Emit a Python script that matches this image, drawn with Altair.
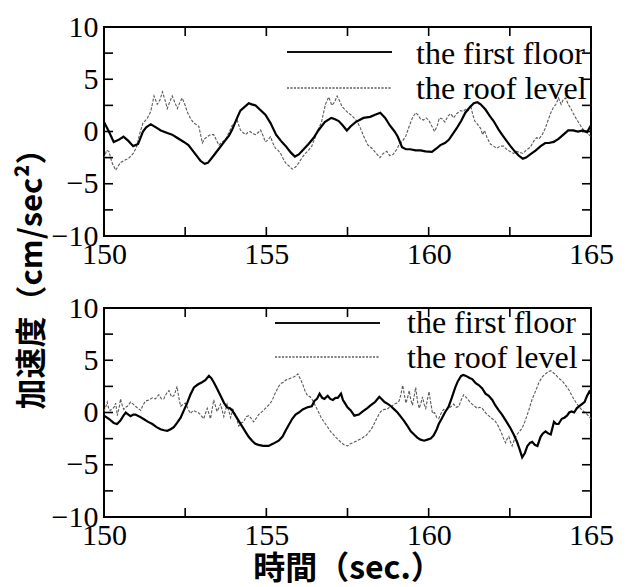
import altair as alt
import pandas as pd

# ---------------- text & ticks ----------------
x_major = [150, 155, 160, 165]
x_minor = [150, 152.5, 155, 157.5, 160, 162.5, 165]
y_major = [-10, -5, 0, 5, 10]
y_minor = [-10, -7.5, -5, -2.5, 0, 2.5, 5, 7.5, 10]
legend_labels = ["the first floor", "the roof level"]
y_title = "加速度（cm/sec²）"
x_title = "時間（sec.）"

# ---------------- top panel ----------------
top_first_t = [150.0, 150.15, 150.3, 150.45, 150.6, 150.75, 150.9, 151.05, 151.2, 151.3, 151.44, 151.6, 151.75,
               151.95, 152.1, 152.25, 152.46, 152.6, 152.75, 152.97, 153.1, 153.2, 153.38, 153.55, 153.7, 153.85,
               153.95, 154.1, 154.2, 154.35, 154.46, 154.55, 154.67, 154.8, 154.97, 155.13, 155.3, 155.45, 155.6,
               155.75, 155.88, 156.0, 156.15, 156.3, 156.46, 156.6, 156.8, 157.0, 157.1, 157.23, 157.35, 157.48,
               157.6, 157.75, 157.99, 158.2, 158.35, 158.51, 158.66, 158.8, 158.95, 159.05, 159.18, 159.3, 159.43,
               159.6, 159.75, 159.9, 160.1, 160.25, 160.36, 160.5, 160.62, 160.75, 160.88, 161.0, 161.13, 161.26,
               161.39, 161.5, 161.6, 161.75, 161.88, 162.0, 162.15, 162.26, 162.4, 162.52, 162.65, 162.77, 162.9,
               163.0, 163.13, 163.3, 163.45, 163.59, 163.7, 163.85, 164.0, 164.15, 164.3, 164.45, 164.6, 164.75,
               164.88, 165.0]
top_first_v = [0.9, 0.0, -1.0, -0.8, -0.5, -0.9, -1.4, -1.2, 0.0, 0.4, 0.7, 0.4, 0.1,
               -0.15, -0.3, -0.6, -1.0, -1.3, -1.9, -2.8, -3.1, -3.0, -2.3, -1.6, -1.0, -0.4,
               0.2, 1.3, 2.0, 2.4, 2.7, 2.6, 2.5, 2.1, 1.6, 0.8, -0.3, -0.9, -1.4,
               -2.0, -2.4, -2.2, -1.7, -1.2, -0.6, 0.1, 0.9, 1.3, 1.2, 1.0, 0.6, 0.1,
               0.5, 0.9, 1.3, 1.4, 1.6, 1.8, 1.3, 0.6, 0.0, -0.5, -1.5, -1.7, -1.7,
               -1.8, -1.8, -1.9, -1.95, -1.6, -1.3, -1.1, -0.8, -0.2, 0.4, 1.0, 1.8, 2.3,
               2.7, 2.8, 2.6, 2.1, 1.5, 1.0, 0.2, -0.3, -0.9, -1.4, -1.9, -2.3, -2.6,
               -2.5, -2.2, -1.8, -1.4, -1.1, -1.1, -1.0, -0.7, -0.3, 0.1, 0.1, 0.0, 0.1,
               -0.05, 0.6]

top_roof_t = [150.0, 150.08, 150.15, 150.25, 150.36, 150.5, 150.6, 150.75, 150.9, 151.0, 151.1, 151.2, 151.32,
              151.44, 151.54, 151.64, 151.72, 151.8, 151.88, 151.95, 152.02, 152.1, 152.18, 152.26, 152.34,
              152.41, 152.5, 152.56, 152.67, 152.77, 152.92, 153.03, 153.1, 153.18, 153.28, 153.38, 153.46,
              153.54, 153.64, 153.74, 153.85, 153.95, 154.03, 154.1, 154.2, 154.28, 154.36, 154.43, 154.5,
              154.58, 154.67, 154.75, 154.82, 154.9, 154.97, 155.05, 155.13, 155.2, 155.28, 155.36, 155.44,
              155.52, 155.59, 155.7, 155.8, 155.9, 156.0, 156.1, 156.2, 156.3, 156.4, 156.51, 156.6, 156.7,
              156.82, 156.92, 157.02, 157.1, 157.18, 157.26, 157.33, 157.48, 157.64, 157.79, 157.9, 157.99,
              158.13, 158.25, 158.36, 158.5, 158.6, 158.71, 158.8, 158.9, 159.02, 159.1, 159.2, 159.3, 159.4,
              159.5, 159.6, 159.67, 159.75, 159.84, 159.92, 160.0, 160.1, 160.18, 160.26, 160.33, 160.42,
              160.5, 160.6, 160.68, 160.77, 160.86, 160.98, 161.07, 161.15, 161.22, 161.29, 161.36, 161.42,
              161.5, 161.6, 161.66, 161.72, 161.8, 161.9, 162.0, 162.1, 162.2, 162.31, 162.4, 162.5, 162.62,
              162.7, 162.8, 162.9, 163.0, 163.13, 163.24, 163.32, 163.4, 163.5, 163.59, 163.67, 163.75,
              163.84, 163.92, 164.0, 164.08, 164.15, 164.22, 164.3, 164.38, 164.46, 164.55, 164.67, 164.78,
              164.87, 165.0]
top_roof_v = [-2.6, -1.8, -1.9, -3.0, -3.7, -3.0, -2.8, -2.6, -2.1, -1.5, -0.2, 0.8, 1.2,
              1.9, 3.4, 2.6, 3.0, 3.8, 3.0, 2.2, 2.8, 3.4, 2.8, 2.2, 2.8,
              3.2, 2.5, 1.9, 1.2, 0.8, 0.5, -1.1, -0.7, -0.5, -0.3, -0.3, -0.8,
              -1.3, -1.0, -0.8, -0.1, 0.6, 0.8, 1.1, 0.15, -0.1, -0.3, -0.1, 0.0,
              -0.2, -0.3, -0.1, 0.15, -0.4, -1.0, -0.8, -0.5, -1.1, -1.6, -1.8, -2.1,
              -2.6, -3.0, -3.3, -3.6, -3.4, -3.0, -2.5, -2.1, -1.8, -1.4, -0.5, 0.2, 0.9,
              2.6, 3.3, 2.5, 2.8, 3.4, 2.9, 2.4, 1.9, 1.5, 1.0, 0.3, -0.4,
              -1.3, -1.6, -2.0, -2.5, -2.1, -1.9, -2.3, -2.2, -1.7, -1.2, -0.9, -0.4, 0.5,
              1.3, 1.8, 1.6, 1.2, 1.1, 1.3, 1.1, 0.5, 0.0, 0.5, 1.3, 1.2,
              0.9, 1.5, 1.7, 1.3, 1.7, 2.0, 1.9, 2.2, 2.0, 2.5, 1.6, 1.0,
              0.7, 0.3, -0.3, 0.1, -0.6, -1.2, -1.4, -1.6, -1.4, -1.4, -1.7, -1.9, -2.1,
              -1.9, -2.0, -2.1, -1.8, -1.5, -0.9, -0.6, -0.7, -0.3, 0.3, 1.0, 1.7,
              2.3, 2.6, 3.2, 2.6, 3.1, 3.2, 2.6, 2.2, 1.7, 1.2, 0.6, 0.1,
              -0.1, -0.5]

# ---------------- bottom panel ----------------
bot_first_t = [150.0, 150.15, 150.3, 150.4, 150.5, 150.6, 150.67, 150.75, 150.82, 150.9, 150.97, 151.1, 151.23,
               151.36, 151.49, 151.62, 151.74, 151.85, 151.95, 152.05, 152.15, 152.25, 152.36, 152.46, 152.56,
               152.66, 152.77, 152.9, 153.02, 153.12, 153.23, 153.3, 153.38, 153.48, 153.59, 153.7, 153.79,
               153.88, 153.95, 154.05, 154.15, 154.25, 154.35, 154.45, 154.56, 154.66, 154.76, 154.9, 155.07,
               155.2, 155.38, 155.5, 155.6, 155.69, 155.8, 155.9, 156.0, 156.12, 156.27, 156.4, 156.48, 156.56,
               156.64, 156.72, 156.79, 156.89, 156.97, 157.05, 157.13, 157.2, 157.3, 157.36, 157.42, 157.5,
               157.6, 157.71, 157.85, 157.97, 158.1, 158.22, 158.35, 158.48, 158.55, 158.64, 158.75, 158.84,
               158.94, 159.04, 159.14, 159.24, 159.35, 159.45, 159.55, 159.65, 159.75, 159.86, 159.96, 160.06,
               160.15, 160.25, 160.31, 160.4, 160.5, 160.62, 160.7, 160.82, 160.9, 161.0, 161.07, 161.15,
               161.26, 161.34, 161.45, 161.55, 161.65, 161.75, 161.85, 161.96, 162.05, 162.16, 162.26, 162.4,
               162.52, 162.62, 162.72, 162.8, 162.88, 162.96, 163.04, 163.12, 163.19, 163.27, 163.35, 163.45,
               163.52, 163.6, 163.68, 163.76, 163.86, 163.93, 164.0, 164.1, 164.18, 164.26, 164.33, 164.4,
               164.48, 164.56, 164.64, 164.72, 164.8, 164.88, 164.95, 165.0]
bot_first_v = [-0.3, -0.6, -1.0, -1.1, -0.8, -0.3, 0.0, -0.2, -0.35, -0.2, -0.2, -0.4, -0.65,
               -0.9, -1.1, -1.4, -1.6, -1.7, -1.75, -1.6, -1.4, -1.0, -0.5, 0.2, 0.9,
               1.7, 2.4, 2.7, 2.9, 3.1, 3.5, 3.3, 2.9, 2.3, 1.6, 0.9, 0.5,
               0.4, 0.2, -0.3, -0.8, -1.3, -1.8, -2.3, -2.7, -3.0, -3.1, -3.2, -3.2,
               -3.0, -2.7, -2.3, -1.7, -1.2, -0.6, -0.2, 0.0, 0.3, 0.5, 0.6, 1.1, 1.3,
               1.8, 1.4, 1.3, 1.6, 1.3, 1.2, 1.4, 1.4, 1.8, 1.2, 0.9, 0.5,
               0.2, -0.3, -0.2, 0.1, 0.4, 0.7, 1.0, 1.5, 1.3, 1.0, 0.8, 0.6,
               0.3, 0.0, -0.4, -0.8, -1.3, -1.8, -2.1, -2.4, -2.6, -2.7, -2.6, -2.5,
               -2.2, -1.6, -1.1, -0.6, 0.0, 0.6, 1.3, 2.4, 3.0, 3.5, 3.6, 3.5,
               3.3, 3.2, 2.8, 2.6, 2.3, 1.8, 1.6, 1.2, 0.7, 0.2, -0.2, -0.9,
               -1.5, -2.1, -2.8, -3.5, -4.3, -3.9, -3.2, -2.9, -2.8, -3.1, -3.2, -2.3,
               -2.0, -1.8, -2.0, -2.1, -0.9, -1.1, -1.1, -0.6, -0.5, -0.3, 0.0, 0.1,
               0.0, 0.4, 0.6, 0.8, 1.0, 1.6, 2.0, 1.8]

bot_roof_t = [150.0, 150.06, 150.1, 150.15, 150.2, 150.31, 150.36, 150.41, 150.48, 150.51, 150.56, 150.61, 150.67,
              150.72, 150.82, 150.9, 150.97, 151.05, 151.13, 151.2, 151.28, 151.38, 151.49, 151.58, 151.69,
              151.77, 151.84, 151.92, 152.0, 152.08, 152.15, 152.2, 152.25, 152.3, 152.36, 152.44, 152.51,
              152.58, 152.66, 152.75, 152.82, 152.9, 152.97, 153.07, 153.18, 153.28, 153.38, 153.48, 153.59,
              153.69, 153.79, 153.9, 153.97, 154.05, 154.15, 154.22, 154.3, 154.38, 154.46, 154.54, 154.61,
              154.7, 154.76, 154.88, 154.97, 155.07, 155.17, 155.28, 155.38, 155.46, 155.53, 155.6, 155.69,
              155.76, 155.84, 155.91, 155.97, 156.05, 156.12, 156.2, 156.27, 156.35, 156.42, 156.5, 156.6,
              156.69, 156.8, 156.89, 157.0, 157.15, 157.28, 157.4, 157.5, 157.58, 157.66, 157.8, 157.92,
              158.07, 158.18, 158.27, 158.38, 158.48, 158.56, 158.63, 158.72, 158.79, 158.87, 158.94, 159.02,
              159.09, 159.15, 159.2, 159.25, 159.3, 159.35, 159.4, 159.45, 159.5, 159.55, 159.6, 159.66,
              159.71, 159.76, 159.81, 159.86, 159.91, 159.96, 160.01, 160.06, 160.12, 160.18, 160.25, 160.31,
              160.38, 160.46, 160.54, 160.62, 160.7, 160.77, 160.85, 160.93, 161.0, 161.08, 161.14, 161.2,
              161.27, 161.34, 161.42, 161.49, 161.57, 161.65, 161.72, 161.8, 161.88, 161.96, 162.04, 162.11,
              162.19, 162.26, 162.32, 162.37, 162.42, 162.47, 162.52, 162.57, 162.64, 162.72, 162.8, 162.88,
              162.96, 163.04, 163.12, 163.19, 163.3, 163.4, 163.5, 163.6, 163.68, 163.76, 163.84, 163.91,
              164.0, 164.12, 164.22, 164.33, 164.43, 164.53, 164.64, 164.74, 164.85, 164.95, 165.0]
bot_roof_v = [0.1, 0.6, 1.0, 0.3, 0.2, 0.5, 0.9, -0.3, 0.7, 1.3, 0.7, 0.3, 0.5,
              0.6, 1.0, 0.8, 0.6, 0.4, 0.2, 0.7, 1.1, 1.2, 1.4, 1.3, 1.7,
              1.3, 1.3, 1.8, 2.1, 1.5, 1.6, 2.0, 2.5, 1.5, 0.6, 0.8, 0.9,
              0.4, -0.1, 0.2, 0.1, 0.0, -0.2, -0.6, 0.4, -0.6, 1.2, 0.1, 0.8,
              -0.4, 0.8, -0.5, 0.3, -0.2, -1.3, -1.0, -0.9, -0.4, -0.3, -0.6, -0.9,
              -0.5, -0.2, 0.1, 0.4, 0.7, 1.1, 1.9, 2.5, 2.8, 2.9, 3.1, 3.2,
              3.3, 3.4, 3.5, 3.7, 3.2, 2.7, 2.0, 1.6, 1.5, 1.2, 0.7, 0.1,
              -0.5, -1.0, -1.4, -1.9, -2.4, -2.8, -3.1, -3.2, -3.0, -2.9, -2.7, -2.5,
              -2.2, -1.8, -1.4, -0.7, -0.1, 0.2, 0.3, 0.3, 0.5, 0.6, 0.8, 0.9,
              1.1, 1.8, 2.6, 1.7, 0.9, 1.4, 2.1, 1.2, 0.7, 1.5, 2.4, 1.0,
              0.4, 0.9, 1.5, 0.8, 0.4, 1.2, 2.0, 1.0, -0.1, 0.0, -0.5, -0.6,
              -0.1, 0.3, 0.2, 0.4, 0.6, 0.8, 0.5, 0.6, 1.2, 1.7, 1.5, 1.3,
              1.0, 0.8, 0.6, 0.4, 0.5, 0.4, 0.1, -0.2, -0.4, -0.6, -0.8, -1.1,
              -1.6, -2.1, -2.6, -2.9, -2.5, -2.3, -2.8, -3.2, -2.6, -2.1, -1.8, -1.5,
              -0.9, -0.2, 0.6, 1.3, 2.1, 2.9, 3.4, 3.7, 3.9, 4.0, 3.8, 3.6,
              3.3, 3.0, 2.6, 2.1, 1.5, 1.0, 0.5, 0.2, -0.1, -0.4, -0.6]

# ---------------- layout constants ----------------
W, H = 487, 209
TICK = 9
SERIF = "'Liberation Serif', 'Times New Roman', Times, 'DejaVu Serif', serif"
GOTHIC = "'Noto Sans CJK JP', 'Noto Sans', sans-serif"

xs = alt.Scale(domain=[150, 165], nice=False, zero=False)
ys = alt.Scale(domain=[-10, 10], nice=False, zero=False)


def panel(first_t, first_v, roof_t, roof_v, leg, show_y_title, show_x_title):
    xaxis = alt.Axis(values=x_major, labelPadding=3, labelFlush=False, labelOverlap=False,
                     title=x_title if show_x_title else None, titlePadding=3, titleFontSize=32)
    if show_y_title:
        yaxis = alt.Axis(values=y_major, labelPadding=6, labelOverlap=False, labelFlush=False,
                         title=y_title, titleX=-72, titleY=244, titleBaseline="middle",
                         titleAlign="center", titleAngle=270, titleFontSize=31)
    else:
        yaxis = alt.Axis(values=y_major, labelPadding=6, labelOverlap=False, labelFlush=False, title=None)

    X = alt.X("t:Q", scale=xs, axis=xaxis)
    Y = alt.Y("v:Q", scale=ys, axis=yaxis)

    roof = alt.Chart(pd.DataFrame({"t": roof_t, "v": roof_v})).mark_line(
        color="#5a5a5a", strokeWidth=1.1, strokeDash=[3, 1.5]).encode(x=X, y=Y)
    first = alt.Chart(pd.DataFrame({"t": first_t, "v": first_v})).mark_line(
        color="black", strokeWidth=2.2).encode(x=X, y=Y)

    yt = alt.Chart(pd.DataFrame({"v": y_minor}))
    xt = alt.Chart(pd.DataFrame({"t": x_minor}))
    tick_kw = dict(color="black", strokeWidth=1.6)
    tl = yt.mark_rule(**tick_kw).encode(y=Y, x=alt.value(0), x2=alt.value(TICK))
    tr = yt.mark_rule(**tick_kw).encode(y=Y, x=alt.value(W - TICK), x2=alt.value(W))
    tb = xt.mark_rule(**tick_kw).encode(x=X, y=alt.value(H - TICK), y2=alt.value(H))
    tt = xt.mark_rule(**tick_kw).encode(x=X, y=alt.value(0), y2=alt.value(TICK))

    lx0, lx1, ly1, ly2, tx, tb1, tb2 = leg
    base = alt.Chart(pd.DataFrame({"label": legend_labels}))
    l1 = base.mark_rule(color="black", strokeWidth=1.6).encode(
        x=alt.value(lx0), x2=alt.value(lx1), y=alt.value(ly1))
    l2 = base.mark_rule(color="#5a5a5a", strokeWidth=1.1, strokeDash=[2, 1.5]).encode(
        x=alt.value(lx0), x2=alt.value(lx1), y=alt.value(ly2))
    txt_kw = dict(font=SERIF, fontSize=32, align="left", baseline="alphabetic", color="black")
    t1 = alt.Chart(pd.DataFrame({"label": legend_labels[:1]})).mark_text(**txt_kw).encode(
        x=alt.value(tx), y=alt.value(tb1), text="label:N")
    t2 = alt.Chart(pd.DataFrame({"label": legend_labels[1:]})).mark_text(**txt_kw).encode(
        x=alt.value(tx), y=alt.value(tb2), text="label:N")

    return alt.layer(roof, first, tl, tr, tb, tt, l1, l2, t1, t2).properties(width=W, height=H)


top = panel(top_first_t, top_first_v, top_roof_t, top_roof_v,
            (183, 288, 25, 61, 312, 37, 72), True, False)
bottom = panel(bot_first_t, bot_first_v, bot_roof_t, bot_roof_v,
               (171, 276, 15, 49, 303, 25, 60), False, True)

chart = alt.vconcat(top, bottom, spacing=72, bounds="flush").properties(
    padding={"left": 7, "top": 3, "right": 5, "bottom": 2},
    background="white",
).configure_view(
    stroke="black", strokeWidth=2
).configure_axis(
    domain=False, ticks=False, grid=False,
    labelFont=SERIF, labelFontSize=30, labelColor="black",
    titleFont=GOTHIC, titleFontWeight="bold", titleColor="black",
)

chart.save("out.html", embed_options={"renderer": "svg", "actions": False})
